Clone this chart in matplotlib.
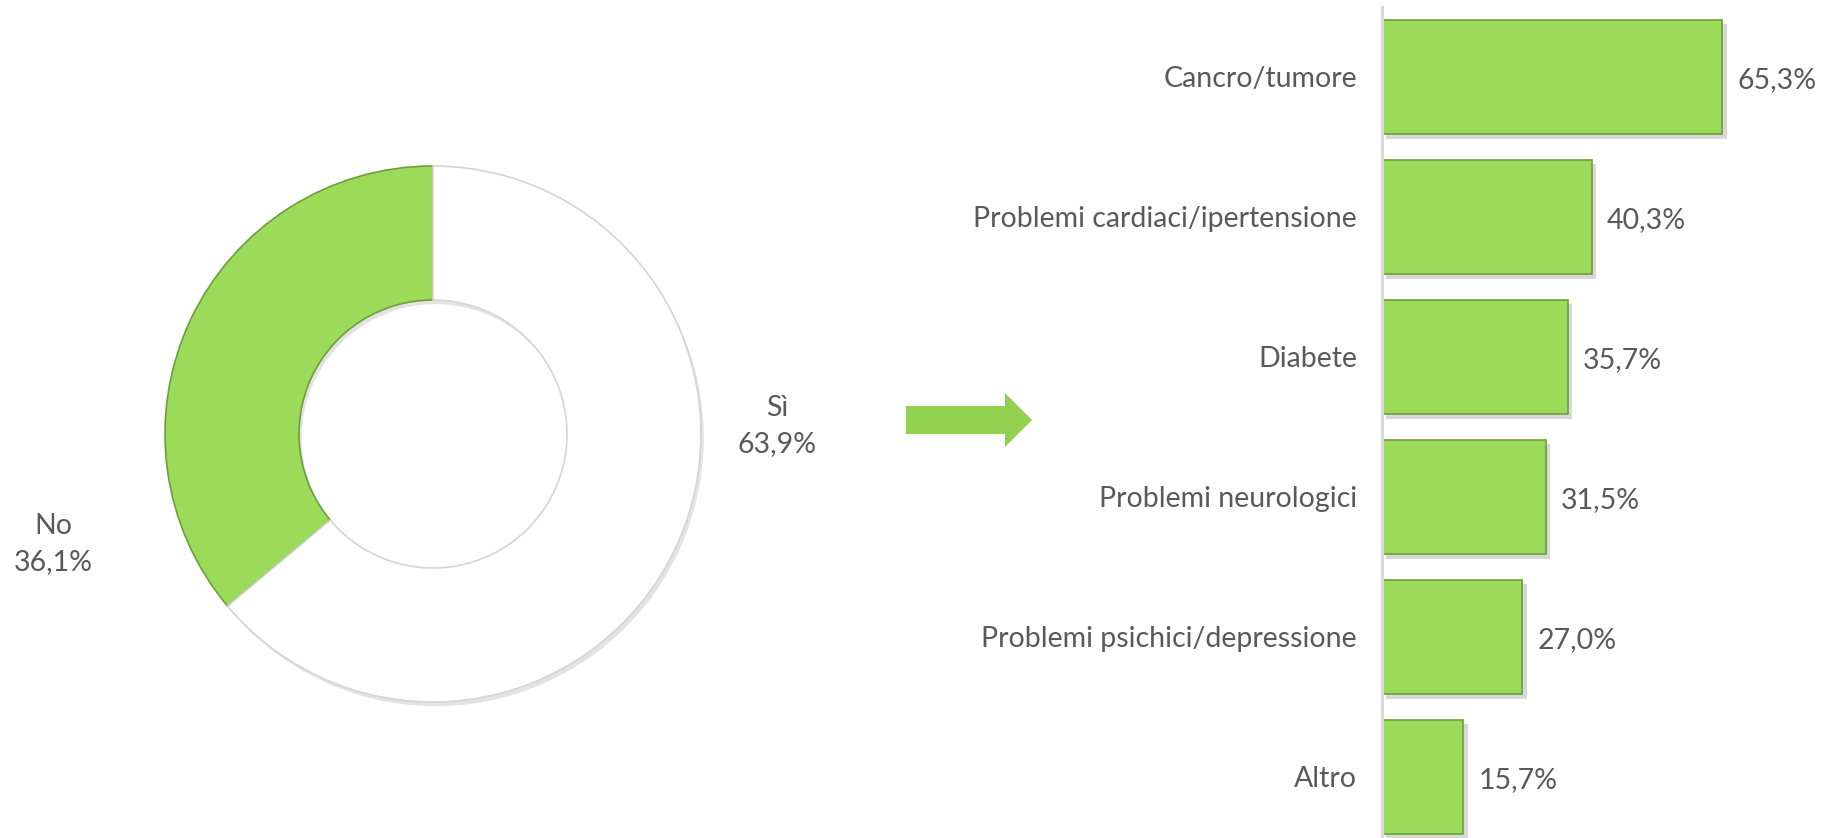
import numpy as np
import matplotlib
matplotlib.use("Agg")
import matplotlib.pyplot as plt
import matplotlib.patheffects as pe
from matplotlib.patches import Polygon

plt.rcParams['font.family'] = ['Lato', 'DejaVu Sans']

# donut data
pie_labels = ["No", "Sì"]
pie_values = [36.1, 63.9]
pie_colors = ["#9BDB59", "#FFFFFF"]

# bar data
categories = ["Cancro/tumore", "Problemi cardiaci/ipertensione", "Diabete",
              "Problemi neurologici", "Problemi psichici/depressione", "Altro"]
values = [65.3, 40.3, 35.7, 31.5, 27.0, 15.7]

TXT = "#595959"
GREEN = "#9BDB59"
FS = 20.5
W, H = 1834, 838

fig = plt.figure(figsize=(W / 100, H / 100), dpi=100)

def px_axes(x0, y0, w, h):
    # rectangle given in pixels from top-left
    return fig.add_axes([x0 / W, (H - y0 - h) / H, w / W, h / H])

# ---- donut ----
cx, cy, r = 433, 434, 268
ax1 = px_axes(cx - r, cy - r, 2 * r, 2 * r)
shadow = [pe.SimplePatchShadow(offset=(2, -3), shadow_rgbFace="#909090", alpha=0.25), pe.Normal()]
wedges, _ = ax1.pie(pie_values, colors=pie_colors, startangle=90, counterclock=True,
                    radius=1.0, wedgeprops=dict(width=0.5, linewidth=1.2))
wedges[0].set_edgecolor("#6E9E3A")
wedges[1].set_edgecolor("#D5D5D5")
for w_ in wedges:
    w_.set_path_effects(shadow)
ax1.set_xlim(-1, 1)
ax1.set_ylim(-1, 1)
ax1.set_aspect("equal")
ax1.axis("off")
ax1.text(-1.418, -0.41, f"{pie_labels[0]}\n{pie_values[0]:.1f}%".replace(".", ","),
         ha="center", va="center", fontsize=FS, color=TXT, linespacing=1.45, clip_on=False)
ax1.text(1.284, 0.03, f"{pie_labels[1]}\n{pie_values[1]:.1f}%".replace(".", ","),
         ha="center", va="center", fontsize=FS, color=TXT, linespacing=1.45, clip_on=False)

# ---- arrow ----
ov = fig.add_axes([0, 0, 1, 1], zorder=-1)
ov.set_xlim(0, W)
ov.set_ylim(H, 0)
ov.axis("off")
arrow = [(906, 406), (1005, 406), (1005, 393), (1032, 420), (1005, 447), (1005, 434), (906, 434)]
ov.add_patch(Polygon(arrow, closed=True, facecolor="#92D050", edgecolor="none"))

# ---- bars ----
x0 = 1381.5
ax2 = px_axes(x0, 7, W - x0, H - 7)
y = np.arange(len(categories))
bars = ax2.barh(y, values, height=0.82, color=GREEN, edgecolor="#6E9E3A", linewidth=1.2)
for b in bars:
    b.set_path_effects([pe.SimplePatchShadow(offset=(3, -3), shadow_rgbFace="#808080", alpha=0.3),
                        pe.Normal()])
for yi, v in zip(y, values):
    ax2.annotate(f"{v:.1f}%".replace(".", ","), (v, yi), xytext=(11, -2),
                 textcoords="offset points", ha="left", va="center",
                 fontsize=FS, color=TXT)
ax2.set_xlim(0, (W - x0) / 5.22)
ax2.set_ylim(5.436, -0.5)
ax2.set_yticks(y)
ax2.set_yticklabels(categories, fontsize=FS, color=TXT)
ax2.tick_params(axis="y", length=0, pad=17.6)
ax2.set_xticks([])
for s in ["top", "right", "bottom"]:
    ax2.spines[s].set_visible(False)
ax2.spines["left"].set_color("#D9D9D9")
ax2.spines["left"].set_linewidth(2.2)
ax2.spines["left"].set_zorder(5)
ax2.patch.set_alpha(0)

fig.savefig("out.png", dpi=100)
